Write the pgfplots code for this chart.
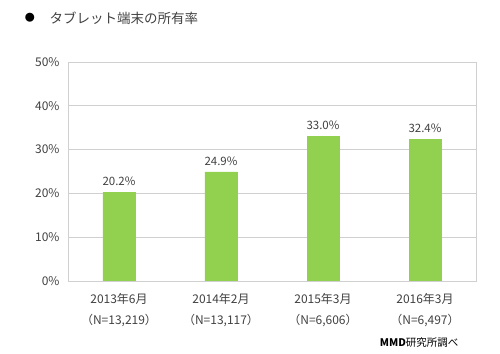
\documentclass[border=0pt]{standalone}
\usepackage{fontspec}
\setmainfont{Noto Sans CJK JP}
\usepackage{pgfplots}
\pgfplotsset{compat=1.18}
\definecolor{bargreen}{HTML}{92D050}
\definecolor{txt}{HTML}{404040}
\definecolor{gridc}{HTML}{D0D0D0}
\begin{document}
\begin{tikzpicture}[x=1pt,y=1pt]
\path[use as bounding box] (-68,-72) rectangle (432,281);
\begin{axis}[
  at={(0,0)}, anchor=south west,
  scale only axis, width=408pt, height=219pt,
  xmin=-0.5, xmax=3.5, ymin=0, ymax=50,
  ytick={0,10,20,30,40,50},
  yticklabel={\pgfmathprintnumber{\tick}\%},
  /pgf/number format/assume math mode=true,
  xtick=data,
  xticklabels={{2013年6月\\（N=13,219）},{2014年2月\\（N=13,117）},{2015年3月\\（N=6,606）},{2016年3月\\（N=6,497）}},
  xticklabel style={align=center, font=\fontsize{12}{21}\selectfont, text=txt, yshift=-9pt},
  yticklabel style={font=\fontsize{12}{13}\selectfont, text=txt, xshift=-5pt},
  major tick length=0pt,
  ymajorgrids, grid style={gridc, line width=0.8pt},
  axis line style={gridc, line width=0.8pt},
  ybar, bar width=32pt,
  nodes near coords={\pgfmathprintnumber[fixed,fixed zerofill,precision=1]{\pgfplotspointmeta}\%},
  nodes near coords style={font=\fontsize{11.5}{12}\selectfont, text=txt, yshift=3pt},
]
\addplot[fill=bargreen, draw=bargreen] coordinates {(0,20.2) (1,24.9) (2,33.0) (3,32.4)};
\end{axis}
\node[text=black, font=\fontsize{10}{12}\selectfont] at (-38,263) {●};
\node[anchor=west, text=txt, font=\fontsize{13.5}{15}\selectfont] at (-22,263) {タブレット端末の所有率};
\node[anchor=east, font=\fontsize{10.5}{12}\selectfont] at (394,-62) {\textbf{MMD}研究所調べ};
\end{tikzpicture}
\end{document}
